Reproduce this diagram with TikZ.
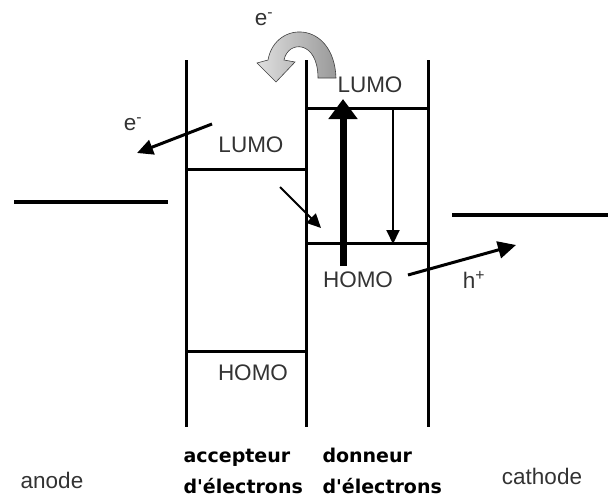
\documentclass[tikz,border=0pt]{standalone}
\usepackage{fontspec}
\setmainfont{Liberation Sans}
\newfontfamily\chicfont{DejaVu Sans}
\usepackage{tikz}
\usetikzlibrary{arrows.meta,calc,positioning}

\tikzset{
  level/.style={line width=3pt},
  wall/.style={line width=3pt},
  electrode/.style={line width=4pt},
  lab/.style={font=\fontsize{22.5}{24}\selectfont,text=black!80},
  matlab/.style={font=\chicfont\bfseries\fontsize{19}{31}\selectfont,align=left,anchor=west},
  thinarr/.style={line width=2.5pt,-{Triangle[length=14pt,width=13pt]}},
}

\begin{document}
\begin{tikzpicture}[x=1pt,y=-1pt]
  \useasboundingbox (0,0) rectangle (608,498);
  % walls of the two layers
  \draw[wall] (186,60) -- (186,427);
  \draw[wall] (306,60) -- (306,427);
  \draw[wall] (428,60) -- (428,427);
  % electrodes
  \draw[electrode] (14,202) -- (168,202);
  \draw[electrode] (452,215) -- (608,215);
  % levels
  \draw[level] (186,169) -- (306,169);
  \draw[level] (186,351) -- (306,351);
  \draw[level] (306,108) -- (428,108);
  \draw[level] (306,243) -- (428,243);
  % texts
  \node[lab] (lumoA) at (251,145) {LUMO};
  \node[lab] (homoA) at (253,373) {HOMO};
  \node[lab] (lumoD) at (370,85) {LUMO};
  \node[lab] (homoD) at (358,280) {HOMO};
  \node[lab] (hplus) at (474,280) {h\textsuperscript{+}};
  \node[lab] (etop) at (264,19) {e\textsuperscript{-}};
  \node[lab] (eleft) at (133,124) {e\textsuperscript{-}};
  \node[lab] (anode) at (52,480) {anode};
  \node[lab] (cathode) at (542,476) {cathode};
  \node[matlab] (acc) at (180,471) {accepteur\\d'électrons};
  \node[matlab] (don) at (319,471) {donneur\\d'électrons};
  % transfers
  \coordinate (eA) at (212,124);
  \coordinate (eB) at (137,153);
  \coordinate (tA) at (280,187);
  \coordinate (tB) at (321,228);
  \coordinate (hA) at (408,275);
  \coordinate (hB) at (516,245);
  \coordinate (upA) at (343,266);
  \coordinate (upB) at (343,99);
  \coordinate (dnA) at (393,108);
  \coordinate (dnB) at (393,244);
  \draw[line width=3pt,-{Triangle[length=16pt,width=15pt]}] (eA) -- (eB);
  \draw[thinarr,line width=2pt] (tA) -- (tB);
  \draw[line width=3pt,-{Triangle[length=18pt,width=17pt]}] (hA) -- (hB);
  \draw[line width=7pt,-{Triangle[length=20pt,width=28pt]}] (upA) -- (upB);
  \draw[thinarr,line width=2pt] (dnA) -- (dnB);
  % curved arrow
  \draw[gray!50!black,line width=0.6pt,left color=gray!25,right color=gray!80]
    (318,78) -- (336,78) .. controls (334,20) and (275,20) .. (268,60)
    -- (257,63) -- (276,82) -- (295,62) -- (284,60)
    .. controls (288,40) and (318,40) .. (318,78) -- cycle;
\end{tikzpicture}
\end{document}
